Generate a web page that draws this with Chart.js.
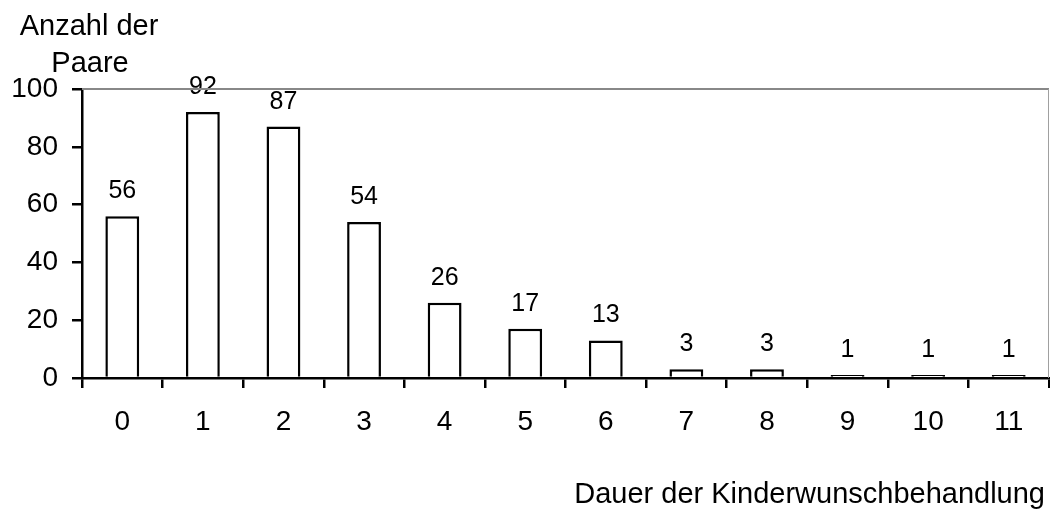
<!DOCTYPE html>
<html>
<head>
<meta charset="utf-8">
<script src="https://cdn.jsdelivr.net/npm/chart.js@4/dist/chart.umd.min.js"></script>
<style>
  html, body { margin: 0; padding: 0; background: #fff; }
  #wrap { width: 1050px; height: 511px; }
</style>
</head>
<body>
<div id="wrap"><canvas id="durationChart" width="1050" height="511"></canvas></div>
<script>
// Dauer der Kinderwunschbehandlung – Anzahl der Paare

const categories = ['0', '1', '2', '3', '4', '5', '6', '7', '8', '9', '10', '11'];
const pairCounts = [56, 92, 87, 54, 26, 17, 13, 3, 3, 1, 1, 1];
const yTicks = [0, 20, 40, 60, 80, 100];

const yTitleLines = ['Anzahl der', 'Paare'];
const xTitle = 'Dauer der Kinderwunschbehandlung';

const FONT = '"Liberation Sans", Arial, sans-serif';

// gray frame on top and right of the plot area
const frameLines = {
    id: 'frameLines',
    afterDraw(chart) {
        const { ctx, chartArea } = chart;
        ctx.save();
        ctx.strokeStyle = '#888';
        ctx.lineWidth = 2;
        ctx.beginPath();
        ctx.moveTo(chartArea.left, chartArea.top);
        ctx.lineTo(chartArea.right, chartArea.top);
        ctx.stroke();
        ctx.strokeStyle = '#a0a0a0';
        ctx.lineWidth = 1;
        ctx.beginPath();
        ctx.moveTo(chartArea.right - 0.5, chartArea.top);
        ctx.lineTo(chartArea.right - 0.5, chartArea.bottom);
        ctx.stroke();
        ctx.restore();
    }
};

// value above each bar
const barValues = {
    id: 'barValues',
    afterDatasetsDraw(chart) {
        const { ctx } = chart;
        const meta = chart.getDatasetMeta(0);
        ctx.save();
        ctx.fillStyle = '#000';
        ctx.font = '25px ' + FONT;
        ctx.textAlign = 'center';
        ctx.textBaseline = 'alphabetic';
        meta.data.forEach((bar, i) => {
            ctx.fillText(String(pairCounts[i]), bar.x, bar.y - 18);
        });
        ctx.restore();
    }
};

// axis titles, placed like the original (horizontal, outside the axes)
const axisTitles = {
    id: 'axisTitles',
    afterDraw(chart) {
        const { ctx, chartArea } = chart;
        ctx.save();
        ctx.fillStyle = '#000';
        ctx.font = '29px ' + FONT;
        ctx.textBaseline = 'alphabetic';
        ctx.textAlign = 'center';
        ctx.fillText(yTitleLines[0], chartArea.left + 7, 35);
        ctx.fillText(yTitleLines[1], chartArea.left + 8, 72);
        ctx.textAlign = 'right';
        ctx.fillText(xTitle, chartArea.right - 4, 503);
        ctx.restore();
    }
};

new Chart(document.getElementById('durationChart'), {
    type: 'bar',
    data: {
        labels: categories,
        datasets: [{
            data: pairCounts,
            backgroundColor: '#fff',
            borderColor: '#000',
            borderWidth: 2.5,
            borderSkipped: 'bottom',
            barPercentage: 0.42,
            categoryPercentage: 1
        }]
    },
    options: {
        responsive: false,
        animation: false,
        layout: { padding: { top: 89, right: 1, left: 0, bottom: 0 } },
        plugins: {
            legend: { display: false },
            tooltip: { enabled: false }
        },
        scales: {
            x: {
                offset: true,
                afterFit(scale) { scale.height = 133; },
                border: { display: true, color: '#000', width: 2.5 },
                grid: {
                    offset: true,
                    drawOnChartArea: false,
                    drawTicks: true,
                    tickLength: 10,
                    tickColor: '#000',
                    lineWidth: 2.5
                },
                ticks: {
                    color: '#000',
                    font: { family: FONT, size: 28 },
                    padding: 17,
                    maxRotation: 0
                }
            },
            y: {
                min: 0,
                max: 100,
                afterFit(scale) { scale.width = 82; },
                afterBuildTicks(scale) {
                    scale.ticks = yTicks.map(v => ({ value: v }));
                },
                border: { display: true, color: '#000', width: 2.5 },
                grid: {
                    drawOnChartArea: false,
                    drawTicks: true,
                    tickLength: 10,
                    tickColor: '#000',
                    lineWidth: 2.5
                },
                ticks: {
                    color: '#000',
                    font: { family: FONT, size: 28 },
                    padding: 14
                }
            }
        }
    },
    plugins: [frameLines, barValues, axisTitles]
});
</script>
</body>
</html>
